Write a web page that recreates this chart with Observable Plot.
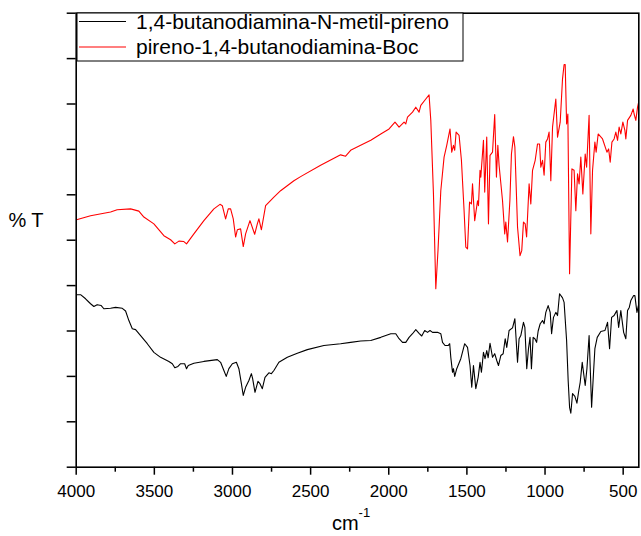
<!DOCTYPE html>
<html>
<head>
<meta charset="utf-8">
<script src="https://cdn.jsdelivr.net/npm/d3@7"></script>
<script src="https://cdn.jsdelivr.net/npm/@observablehq/plot@0.6"></script>
<style>
  html, body { margin: 0; padding: 0; background: #fff; }
  #chart { width: 641px; height: 536px; }
</style>
</head>
<body>
<div id="chart"></div>
<script>
// Series 1: 1,4-butanodiamina-N-metil-pireno (black)
const wnBlack = [3998,3972,3940,3908,3887,3866,3840,3823,3780,3748,3705,3684,3663,3641,3620,3588,3545,3503,3460,3407,3385,3369,3349,3332,3306,3294,3283,3247,3183,3097,3076,3055,3040,3023,3001,2975,2959,2943,2931,2916,2895,2879,2871,2856,2837,2824,2809,2792,2767,2751,2735,2703,2649,2585,2521,2415,2308,2244,2180,2115,2051,1987,1955,1934,1912,1891,1870,1848,1827,1806,1789,1770,1752,1736,1720,1688,1667,1656,1640,1620,1610,1603,1592,1586,1578,1565,1539,1514,1496,1480,1469,1458,1443,1428,1416,1407,1394,1384,1373,1364,1352,1336,1322,1309,1298,1283,1268,1255,1245,1230,1208,1193,1176,1166,1155,1138,1129,1117,1106,1096,1087,1076,1065,1054,1044,1031,1016,1006,995,980,967,958,946,931,920,907,888,878,862,852,843,835,824,809,796,784,775,762,743,732,718,702,689,681,666,643,617,600,587,574,558,547,540,529,515,497,483,472,461,451,433,425,412,400];
const tBlack = [38.0,38.0,37.1,36.0,35.4,35.8,35.6,34.9,35.0,35.2,35.0,34.4,32.3,30.5,30.3,29.0,27.2,25.3,24.2,23.3,22.8,21.9,22.2,22.8,22.8,21.7,22.4,22.9,23.3,23.7,23.1,21.3,20.0,21.7,22.8,23.1,21.7,18.4,15.8,17.6,19.1,20.6,19.5,16.5,18.9,18.4,17.3,19.8,20.8,20.6,21.3,23.1,24.2,25.1,25.9,26.8,27.2,27.5,27.8,27.9,28.6,29.4,29.4,28.3,27.5,27.5,28.6,29.4,30.3,29.5,28.9,30.1,29.7,30.1,29.7,29.7,29.4,27.5,26.8,26.8,27.2,24.2,20.9,21.7,20.0,21.7,23.9,27.2,26.4,22.4,17.6,22.4,17.3,19.8,23.1,20.9,25.3,23.9,25.7,24.1,27.3,24.2,25.0,23.5,22.4,24.6,25.0,28.3,26.4,30.1,30.7,32.7,23.1,28.3,29.0,31.9,30.8,21.7,26.1,28.6,21.7,28.6,28.3,27.5,30.0,31.6,32.3,31.6,34.1,35.6,34.1,29.4,33.0,34.1,33.4,38.2,37.3,36.3,27.9,19.1,13.2,11.9,16.2,15.6,14.1,16.9,18.7,23.1,18.0,21.7,29.0,13.2,21.3,26.1,28.6,29.9,30.1,31.9,26.1,33.0,33.4,34.1,34.5,30.8,34.5,29.7,28.3,34.5,35.2,36.7,37.8,37.8,34.1,36.0];

// Series 2: pireno-1,4-butanodiamina-Boc (red)
const wnRed = [3998,3908,3780,3738,3652,3599,3567,3503,3439,3396,3369,3343,3311,3294,3247,3183,3119,3080,3065,3044,3027,3012,2995,2980,2969,2948,2931,2916,2888,2858,2841,2831,2815,2788,2735,2692,2607,2564,2436,2308,2276,2244,2180,2115,2051,1998,1960,1934,1902,1891,1880,1848,1827,1806,1795,1763,1742,1731,1714,1699,1685,1667,1646,1629,1608,1597,1586,1578,1569,1550,1535,1518,1507,1496,1483,1471,1464,1450,1432,1426,1416,1411,1394,1386,1373,1362,1352,1336,1322,1311,1302,1294,1272,1258,1251,1240,1225,1215,1202,1193,1176,1160,1149,1138,1127,1118,1108,1102,1091,1080,1063,1048,1035,1027,1016,1006,995,984,974,963,952,931,920,903,888,878,871,862,854,843,828,814,803,792,782,771,758,743,734,718,707,696,681,673,660,632,604,593,583,572,558,547,536,526,515,502,489,483,472,451,436,430,419,408,400];
const tRed = [54.5,55.4,56.2,56.7,56.9,56.4,55.1,53.6,51.0,50.1,49.2,49.8,49.7,49.2,51.4,54.3,56.9,57.9,57.6,54.7,56.9,56.9,54.7,50.7,52.3,52.5,48.6,51.4,54.3,51.3,53.6,54.7,52.3,57.6,59.5,60.9,63.1,64.0,66.5,68.8,68.5,69.8,70.9,72.0,73.4,74.5,76.0,74.9,76.0,75.6,77.1,78.2,79.3,78.2,79.7,81.1,82.0,76.4,60.2,39.3,47.7,60.9,68.3,70.9,74.5,69.4,70.9,69.8,73.8,73.1,67.6,56.5,48.5,48.1,58.4,58.0,62.4,54.3,58.7,57.6,65.4,63.9,72.0,60.6,72.7,53.6,68.7,69.4,77.7,63.9,70.9,66.5,58.7,51.4,54.0,49.6,58.7,69.0,72.8,70.5,52.9,46.6,47.7,54.0,53.6,50.7,58.0,62.4,58.0,65.4,67.6,71.2,71.2,66.1,67.6,64.3,71.6,72.3,73.8,63.1,74.9,81.1,72.7,76.0,85.6,88.7,88.7,75.6,77.8,42.6,65.7,65.4,56.5,64.6,62.4,68.3,60.2,69.0,66.1,77.5,51.4,65.4,71.6,69.4,73.4,72.3,69.4,70.1,67.2,71.6,72.3,73.8,72.0,74.9,73.4,76.0,74.2,72.3,76.4,77.5,78.9,77.8,76.4,79.3,80.6];

const seriesNames = ["1,4-butanodiamina-N-metil-pireno", "pireno-1,4-butanodiamina-Boc"];
const seriesColors = ["#000000", "#ff0000"];
const xMajorTicks = [4000, 3500, 3000, 2500, 2000, 1500, 1000, 500];
const xMinorTicks = [3750, 3250, 2750, 2250, 1750, 1250, 750];
const yTicks = [0, 10, 20, 30, 40, 50, 60, 70, 80, 90, 100];
const xLabel = "cm";
const xLabelSup = "-1";
const yLabel = "% T";

const black = wnBlack.map((w, i) => ({w, t: tBlack[i]}));
const red = wnRed.map((w, i) => ({w, t: tRed[i]}));

const FONT = "'Liberation Sans', Arial, Helvetica, sans-serif";

const svg = Plot.plot({
  width: 641,
  height: 536,
  marginLeft: 75.7,
  marginRight: 2.7,
  marginTop: 12.7,
  marginBottom: 69.3,
  style: {fontFamily: FONT, fontSize: "17px", background: "#fff", color: "#000", overflow: "visible"},
  x: {domain: [4000, 400]},
  y: {domain: [0, 100]},
  marks: [
    Plot.axisX({ticks: xMajorTicks, tickSize: 8, tickPadding: 10, fontSize: 17, label: null, strokeWidth: 1.5, tickFormat: d => String(d)}),
    Plot.axisX({ticks: xMinorTicks, tickSize: 5, label: null, strokeWidth: 1.5, tickFormat: () => ""}),
    Plot.axisY({ticks: yTicks, tickSize: 9, label: null, strokeWidth: 1.5, tickFormat: () => ""}),
    Plot.line(black, {x: "w", y: "t", stroke: seriesColors[0], strokeWidth: 1.1, clip: true}),
    Plot.line(red, {x: "w", y: "t", stroke: seriesColors[1], strokeWidth: 1.1, clip: true}),
    Plot.frame({stroke: "#000", strokeWidth: 1.6})
  ]
});

const s = d3.select(svg);
// Legend box (top-left inside plot)
const lg = s.append("g").attr("font-family", FONT).attr("text-anchor", "start");
lg.append("rect").attr("x", 77).attr("y", 13).attr("width", 386).attr("height", 48)
  .attr("fill", "#fff").attr("stroke", "#000").attr("stroke-width", 1);
seriesNames.forEach((name, i) => {
  const y = 21.5 + i * 25.5;
  lg.append("line").attr("x1", 79).attr("x2", 126).attr("y1", y).attr("y2", y)
    .attr("stroke", seriesColors[i]).attr("stroke-width", 1.1);
  lg.append("text").attr("x", 136).attr("y", y).attr("dy", "0.35em").attr("text-anchor", "start")
    .attr("font-size", 21).attr("fill", "#000").text(name);
});
// Y label
s.append("text").attr("x", 26).attr("y", 220).attr("dy", "0.35em").attr("text-anchor", "middle")
  .attr("font-family", FONT).attr("font-size", 20).attr("fill", "#000").text(yLabel);
// X label with superscript
const xl = s.append("text").attr("x", 351).attr("y", 530).attr("text-anchor", "middle")
  .attr("font-family", FONT).attr("font-size", 20).attr("fill", "#000");
xl.append("tspan").text(xLabel);
xl.append("tspan").attr("font-size", 13).attr("dy", -13).text(xLabelSup);

document.getElementById("chart").appendChild(svg);
</script>
</body>
</html>
